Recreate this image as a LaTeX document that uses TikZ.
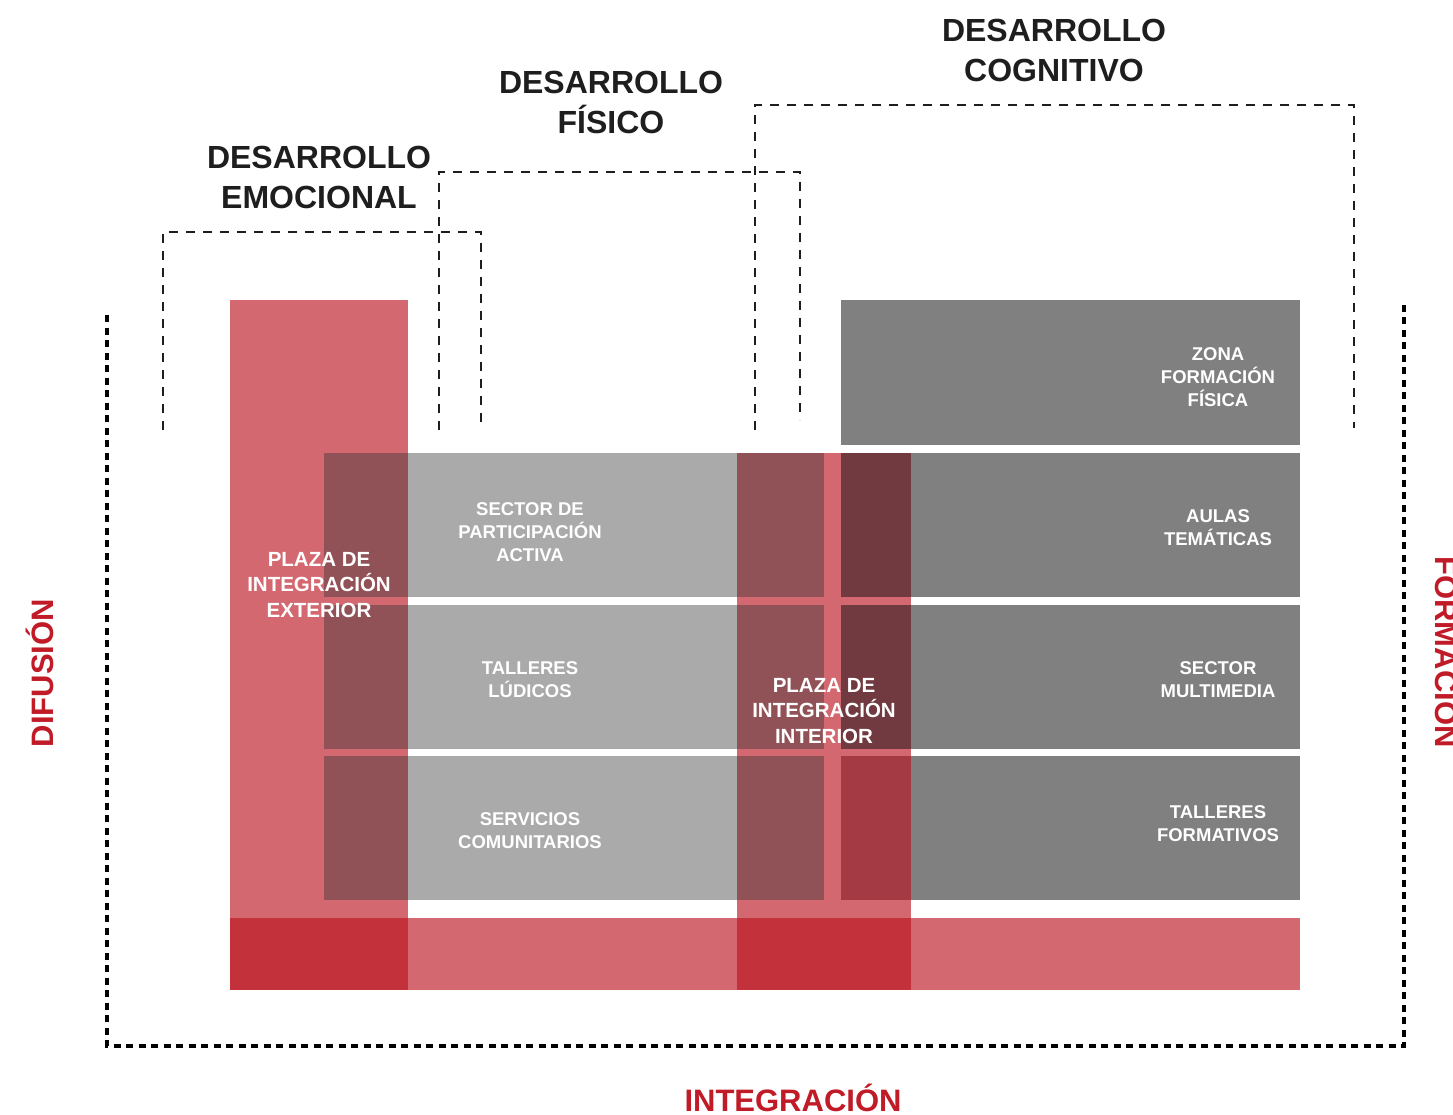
\documentclass[tikz,border=0pt]{standalone}
\usepackage{fontspec}
\setmainfont{Liberation Sans}
\definecolor{pinkc}{HTML}{D36870}
\definecolor{redc}{HTML}{C3313B}
\definecolor{lgrey}{HTML}{AAAAAA}
\definecolor{dgrey}{HTML}{808080}
\definecolor{ovl}{HTML}{915257}
\definecolor{ovd}{HTML}{703A40}
\definecolor{ovr}{HTML}{A33A44}
\definecolor{labred}{HTML}{C11B28}
\definecolor{titc}{HTML}{1E1E1E}
\tikzset{
  boxlab/.style={text=white, align=center, inner sep=0pt, font=\bfseries\fontsize{18.5}{23}\selectfont},
  plazalab/.style={text=white, align=center, inner sep=0pt, font=\bfseries\fontsize{20.5}{25.5}\selectfont},
  titlab/.style={text=titc, align=center, inner sep=0pt, font=\bfseries\fontsize{32}{40}\selectfont},
  axislab/.style={text=labred, inner sep=0pt, font=\bfseries\fontsize{31}{36}\selectfont},
  outerdash/.style={draw=black, line width=3.5pt, dash pattern=on 7pt off 5.5pt},
  innerdash/.style={draw=titc, line width=2pt, dash pattern=on 9pt off 8pt}
}
\begin{document}
\begin{tikzpicture}[x=1pt,y=-1pt]
\useasboundingbox[fill=white] (0,0) rectangle (1453,1115);
% pink plazas and band
\fill[pinkc] (230,300) rectangle (408,918);
\fill[pinkc] (230,918) rectangle (1300,990);
\fill[redc] (230,918) rectangle (408,990);
\fill[redc] (737,918) rectangle (911,990);
\fill[pinkc] (737,453) rectangle (911,918);
% rows
\foreach \t/\b/\c in {453/597/ovd, 605/749/ovd, 756/900/ovr}{
  \fill[ovl] (324,\t) rectangle (408,\b);
  \fill[lgrey] (408,\t) rectangle (737,\b);
  \fill[ovl] (737,\t) rectangle (824,\b);
  \fill[\c] (841,\t) rectangle (911,\b);
  \fill[dgrey] (911,\t) rectangle (1300,\b);
}
\fill[dgrey] (841,300) rectangle (1300,445);
% labels in boxes
\node[boxlab] (zona) at (1218,377) {ZONA\\FORMACIÓN\\FÍSICA};
\node[boxlab] (aulas) at (1218,528) {AULAS\\TEMÁTICAS};
\node[boxlab] (multi) at (1218,680) {SECTOR\\MULTIMEDIA};
\node[boxlab] (tform) at (1218,824) {TALLERES\\FORMATIVOS};
\node[boxlab] (spa) at (530,532) {SECTOR DE\\PARTICIPACIÓN\\ACTIVA};
\node[boxlab] (tlud) at (530,680) {TALLERES\\LÚDICOS};
\node[boxlab] (serv) at (530,831) {SERVICIOS\\COMUNITARIOS};
\node[plazalab] (pext) at (319,585) {PLAZA DE\\INTEGRACIÓN\\EXTERIOR};
\node[plazalab] (pint) at (824,711) {PLAZA DE\\INTEGRACIÓN\\INTERIOR};
% brackets
\draw[outerdash] (107,315) -- (107,1046) -- (1404,1046) -- (1404,300);
\draw[innerdash] (163,430) -- (163,232) -- (481,232) -- (481,425);
\draw[innerdash] (439,430) -- (439,172) -- (800,172) -- (800,420);
\draw[innerdash] (755,430) -- (755,105) -- (1354,105) -- (1354,428);
% titles
\node[titlab] (temo) at (319,177) {DESARROLLO\\EMOCIONAL};
\node[titlab] (tfis) at (611,102) {DESARROLLO\\FÍSICO};
\node[titlab] (tcog) at (1054,50) {DESARROLLO\\COGNITIVO};
% axis labels
\node[axislab, rotate=90] (dif) at (40,673) {DIFUSIÓN};
\node[axislab, rotate=-90] (form) at (1449,652) {FORMACIÓN};
\node[axislab] (integ) at (793,1098) {INTEGRACIÓN};
\end{tikzpicture}
\end{document}
